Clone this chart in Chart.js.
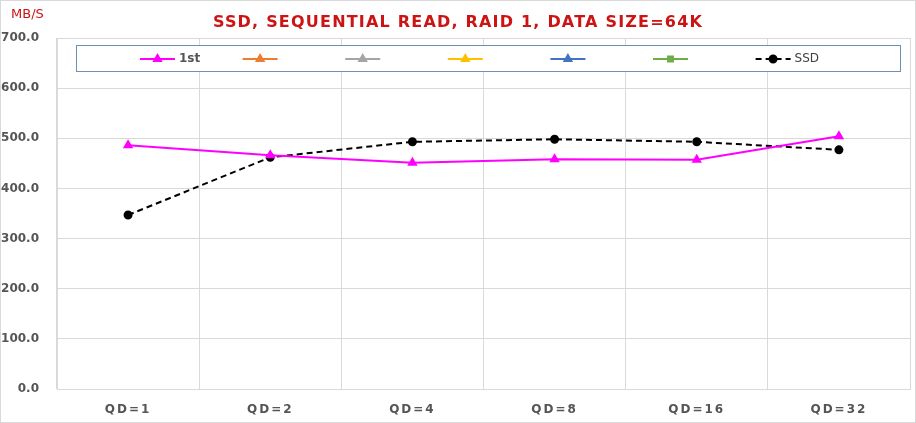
<!DOCTYPE html>
<html>
<head>
<meta charset="utf-8">
<script src="https://cdn.jsdelivr.net/npm/chart.js@4.4.1/dist/chart.umd.min.js"></script>
<style>
  html, body { margin: 0; padding: 0; background: #fff; }
  canvas { display: block; }
</style>
</head>
<body>
<canvas id="seqReadChart" width="916" height="423"></canvas>
<script>
// Chart data
const categories = ["QD=1", "QD=2", "QD=4", "QD=8", "QD=16", "QD=32"];
const firstRun = [486, 466, 451, 458, 457, 504];
const ssdValues = [347, 462, 493, 498, 493, 477];
const emptySeries = [];
const yTicks = [0, 100, 200, 300, 400, 500, 600, 700];

const titleText = "SSD, SEQUENTIAL READ, RAID 1, DATA SIZE=64K";
const unitText = "MB/S";
const red = "#cc1414";
const tickColor = "#555555";
const gridColor = "#d9d9d9";

// Title, unit label, outer border and legend box
const decorPlugin = {
  id: "decor",
  beforeDraw(chart) {
    const ctx = chart.ctx;
    ctx.save();
    ctx.fillStyle = "#fff";
    ctx.fillRect(0, 0, chart.width, chart.height);
    ctx.strokeStyle = gridColor;
    ctx.lineWidth = 1;
    ctx.strokeRect(0.5, 0.5, chart.width - 1, chart.height - 1);
    ctx.restore();
  },
  afterLayout(chart) {
    // x labels are letter-spaced in the original
    const xs = chart.scales.x;
    if (xs && !xs._spaced) {
      const orig = xs.drawLabels;
      xs.drawLabels = function (area) {
        this.ctx.letterSpacing = "2px";
        orig.call(this, area);
        this.ctx.letterSpacing = "0px";
      };
      xs._spaced = true;
    }
  },
  afterDatasetsDraw(chart) {
    const ctx = chart.ctx;
    ctx.save();
    // title
    ctx.fillStyle = red;
    ctx.font = "bold 16px 'DejaVu Sans'";
    ctx.letterSpacing = "1.2px";
    ctx.textAlign = "center";
    ctx.textBaseline = "middle";
    ctx.fillText(titleText, 458, 23);
    ctx.letterSpacing = "0px";
    // unit
    ctx.font = "13px 'DejaVu Sans'";
    ctx.textAlign = "left";
    ctx.fillText(unitText, 11, 15);

    // legend box
    const box = { x: 76.5, y: 45.5, w: 824, h: 26 };
    ctx.fillStyle = "#fff";
    ctx.fillRect(box.x, box.y, box.w, box.h);
    ctx.strokeStyle = "#6f8fb3";
    ctx.lineWidth = 1;
    ctx.strokeRect(box.x, box.y, box.w, box.h);

    const cy = 59;
    chart.data.datasets.forEach(function (ds, i) {
      const x0 = 140 + i * 102.6;
      ctx.strokeStyle = ds.borderColor;
      ctx.lineWidth = 2;
      ctx.setLineDash(ds.borderDash || []);
      ctx.beginPath();
      ctx.moveTo(x0, cy);
      ctx.lineTo(x0 + 35, cy);
      ctx.stroke();
      ctx.setLineDash([]);
      ctx.fillStyle = ds.pointBackgroundColor;
      ctx.strokeStyle = ds.pointBorderColor;
      Chart.helpers.drawPoint(ctx, {
        pointStyle: ds.pointStyle,
        radius: ds.pointRadius,
        rotation: 0,
        borderWidth: 1
      }, x0 + 17.5, cy);
      if (ds.label) {
        ctx.fillStyle = i === 0 ? tickColor : "#404040";
        ctx.font = i === 0 ? "bold 12px 'DejaVu Sans'" : "12px 'DejaVu Sans'";
        ctx.textAlign = "left";
        ctx.fillText(ds.label, x0 + 39, cy);
      }
    });
    ctx.restore();
  }
};

function series(label, data, color, style, extra) {
  return Object.assign({
    label: label,
    data: data,
    borderColor: color,
    backgroundColor: color,
    pointBackgroundColor: color,
    pointBorderColor: color,
    pointStyle: style,
    pointRadius: 4,
    borderWidth: 2,
    tension: 0
  }, extra || {});
}

const ctx = document.getElementById("seqReadChart").getContext("2d");

new Chart(ctx, {
  type: "line",
  data: {
    labels: categories,
    datasets: [
      series("1st", firstRun, "#ff00ff", "triangle"),
      series("", emptySeries, "#ed7d31", "triangle"),
      series("", emptySeries, "#a5a5a5", "triangle"),
      series("", emptySeries, "#ffc000", "triangle"),
      series("", emptySeries, "#4472c4", "triangle"),
      series("", emptySeries, "#70ad47", "rect", { pointRadius: 3.5 }),
      series("SSD", ssdValues, "#000000", "circle", { borderDash: [6, 4], pointRadius: 3.5 })
    ]
  },
  options: {
    responsive: false,
    animation: false,
    devicePixelRatio: 1,
    layout: { padding: { top: 38, right: 2, left: 0, bottom: 0 } },
    plugins: {
      legend: { display: false },
      title: { display: false },
      tooltip: { enabled: false }
    },
    scales: {
      x: {
        offset: true,
        grid: { offset: true, color: gridColor, drawTicks: false },
        border: { color: gridColor },
        ticks: {
          color: tickColor,
          padding: 14,
          maxRotation: 0,
          font: { family: "'DejaVu Sans'", size: 12, weight: "bold" }
        },
        afterFit: function (scale) { scale.height = 34; }
      },
      y: {
        min: 0,
        max: 700,
        afterBuildTicks: function (scale) {
          scale.ticks = yTicks.map(function (v) { return { value: v }; });
        },
        grid: { color: gridColor, drawTicks: false },
        border: { color: gridColor },
        ticks: {
          color: tickColor,
          padding: 18,
          font: { family: "'DejaVu Sans'", size: 12, weight: "bold" },
          callback: function (v) { return Number(v).toFixed(1); }
        },
        afterFit: function (scale) { scale.width = 57; }
      }
    }
  },
  plugins: [decorPlugin]
});
</script>
</body>
</html>
